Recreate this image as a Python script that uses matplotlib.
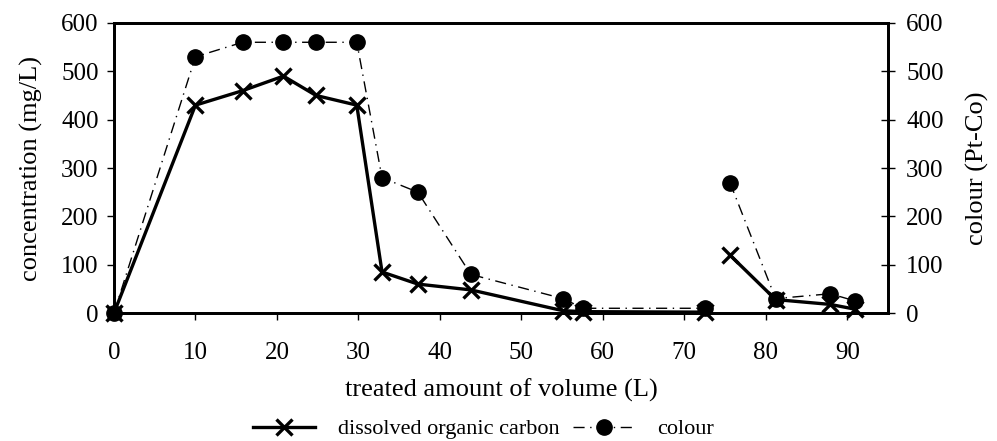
import matplotlib
matplotlib.use("Agg")
import matplotlib.pyplot as plt
import numpy as np

# treated volume (L); NaN marks the break between the two runs
volume = [0, 10, 15.8, 20.8, 24.8, 29.8, 32.9, 37.3, 43.8, 55.1, 57.6, 72.5,
          np.nan, 75.6, 81.2, 87.9, 91.0]
doc = [0, 430, 460, 490, 450, 430, 85, 60, 48, 5, 3, 2,
       np.nan, 120, 28, 18, 8]
colour = [0, 530, 560, 560, 560, 560, 280, 250, 80, 30, 10, 10,
          np.nan, 270, 30, 40, 25]

xticks = list(range(0, 100, 10))
yticks = list(range(0, 700, 100))

plt.rcParams["font.family"] = ["Liberation Serif", "DejaVu Serif"]

fig = plt.figure(figsize=(9.97, 4.41), dpi=100)
ax = fig.add_axes([0.1143, 0.290, 0.7764, 0.658])
ax2 = ax.twinx()

l1, = ax.plot(volume, doc, color="black", lw=2.4, marker="x", ms=11, mew=2.4,
              clip_on=False, zorder=3)
l2, = ax2.plot(volume, colour, color="black", lw=1.0, ls=(0, (8, 4, 1, 4)),
               marker="o", ms=11, clip_on=False, zorder=3)

for a in (ax, ax2):
    a.set_ylim(0, 600)
    a.set_yticks(yticks)
    for s in a.spines.values():
        s.set_linewidth(2.0)
ax.set_xlim(0, 95)
ax.set_xticks(xticks)

ax.tick_params(axis="x", direction="out", length=5, width=1, labelsize=18, pad=16)
ax.tick_params(axis="y", direction="out", length=5, width=1, labelsize=18, pad=6)
ax2.tick_params(axis="y", direction="inout", length=10, width=1, labelsize=18, pad=8)

ax.set_ylabel("concentration (mg/L)", fontsize=19, labelpad=13)
ax2.set_ylabel("colour (Pt-Co)", fontsize=19, labelpad=16)
ax.set_xlabel("treated amount of volume (L)", fontsize=19, labelpad=10)

fig.legend([l1, l2], ["dissolved organic carbon", "colour"], loc="center",
           bbox_to_anchor=(0.485, 0.027), ncol=2, frameon=False, fontsize=16,
           handlelength=2.8, columnspacing=0.6, handletextpad=1.0)

fig.savefig("out.png", dpi=100)
